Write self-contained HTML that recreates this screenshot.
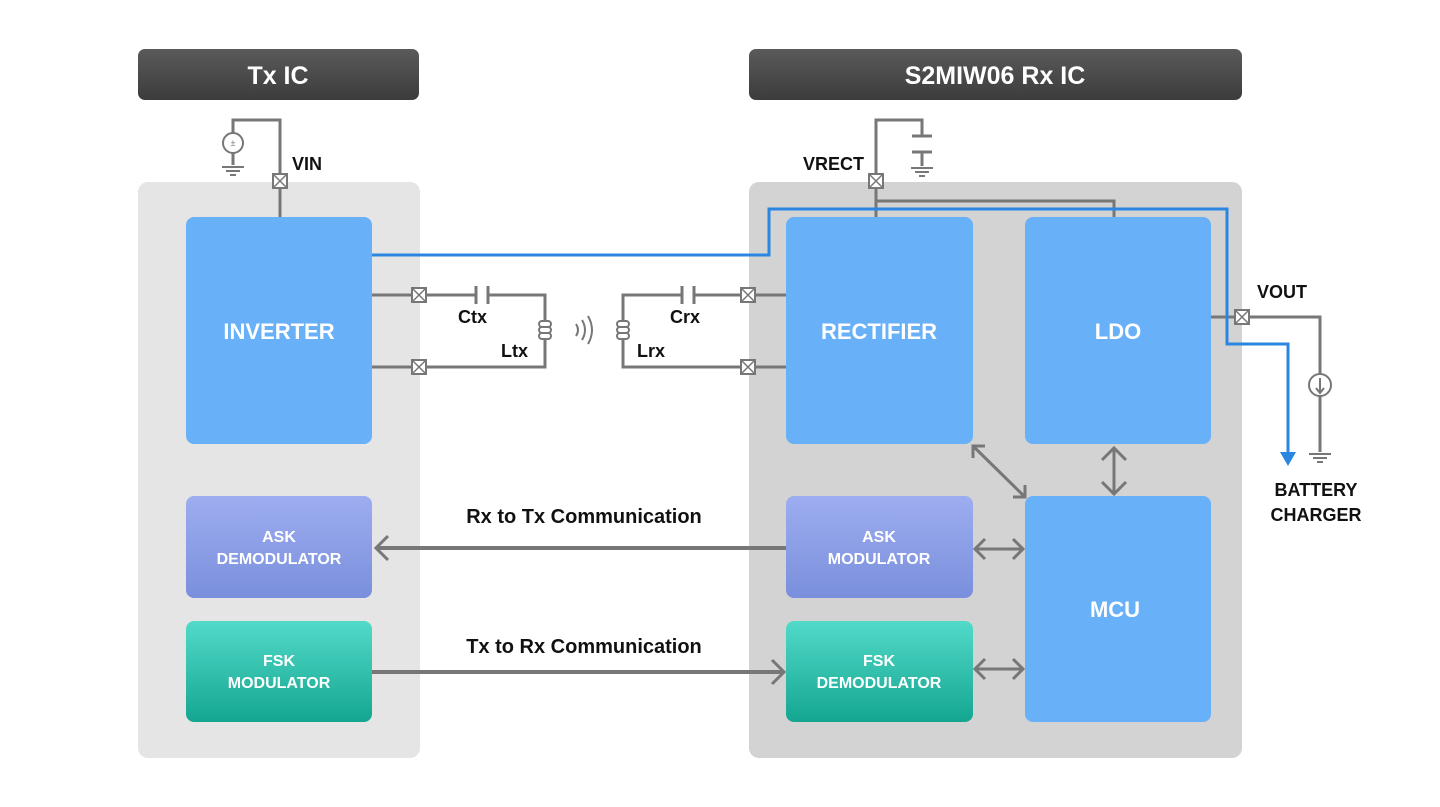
<!DOCTYPE html>
<html><head><meta charset="utf-8"><style>
html,body{margin:0;padding:0;background:#fff;}
svg{display:block;font-family:"Liberation Sans",sans-serif;}
</style></head><body>
<svg width="1440" height="807" viewBox="0 0 1440 807" xmlns="http://www.w3.org/2000/svg">
<defs>
<linearGradient id="hd" x1="0" y1="0" x2="0" y2="1"><stop offset="0" stop-color="#5a5a5a"/><stop offset="1" stop-color="#3c3c3c"/></linearGradient>
<linearGradient id="ask" x1="0" y1="0" x2="0" y2="1"><stop offset="0" stop-color="#9dadf0"/><stop offset="1" stop-color="#7a8fdc"/></linearGradient>
<linearGradient id="fsk" x1="0" y1="0" x2="0" y2="1"><stop offset="0" stop-color="#52dac9"/><stop offset="1" stop-color="#14a690"/></linearGradient>
<g id="xb"><rect x="-7" y="-7" width="14" height="14" fill="#fff" stroke="#777" stroke-width="2"/><path d="M-6 -6L6 6M6 -6L-6 6" stroke="#777" stroke-width="1.5"/></g>
<g id="gnd"><path d="M-11 0H11M-7 4H7M-3 8H3" stroke="#777" stroke-width="2"/></g>
</defs>
<!-- headers -->
<rect x="138" y="49" width="281" height="51" rx="7" fill="url(#hd)"/>
<text x="278" y="84" fill="#fff" font-size="25" font-weight="bold" text-anchor="middle">Tx IC</text>
<rect x="749" y="49" width="493" height="51" rx="7" fill="url(#hd)"/>
<text x="995" y="84" fill="#fff" font-size="25" font-weight="bold" text-anchor="middle">S2MIW06 Rx IC</text>
<!-- panels -->
<rect x="138" y="182" width="282" height="576" rx="10" fill="#e5e5e5"/>
<rect x="749" y="182" width="493" height="576" rx="10" fill="#d3d3d3"/>
<g stroke="#777" stroke-width="3" fill="none">
<!-- VIN -->
<path d="M233 133V120H280V217"/>
<path d="M233 153V165"/>
<!-- Tx tank -->
<path d="M372 295H476M488 295H545V367H372"/>
<path d="M476 286V304M488 286V304"/>
<!-- Rx tank -->
<path d="M787 295H694M682 295H623V367H787"/>
<path d="M682 286V304M694 286V304"/>
<!-- VRECT -->
<path d="M876 217V120H922V136M922 152V166"/>
<path d="M912 136H932M912 152H932"/>
<path d="M876 201H1114V217"/>
<!-- VOUT -->
<path d="M1211 317H1320V374M1320 396V452"/>
<!-- comm -->
<path d="M787 548H376" stroke-width="4"/>
<path d="M388 536L376 548L388 560"/>
<path d="M372 672H782" stroke-width="4"/>
<path d="M772 660L784 672L772 684"/>
<!-- mcu arrows -->
<path d="M973 446L1025 497"/>
<path d="M973 458V446H985M1025 485V497H1013"/>
<path d="M1114 448V494M1102 460L1114 448L1126 460M1102 482L1114 494L1126 482"/>
<path d="M975 549H1023M985 539L975 549L985 559M1013 539L1023 549L1013 559"/>
<path d="M975 669H1023M985 659L975 669L985 679M1013 659L1023 669L1013 679"/>
<!-- waves -->
<path d="M576 324Q580 330 576 336M582 320Q588 330 582 340M588 316Q596 330 588 344" stroke-width="2"/>
</g>
<!-- inductors -->
<g fill="#fff" stroke="#777" stroke-width="2">
<rect x="539" y="321" width="12" height="6" rx="3"/><rect x="539" y="327" width="12" height="6" rx="3"/><rect x="539" y="333" width="12" height="6" rx="3"/>
<rect x="617" y="321" width="12" height="6" rx="3"/><rect x="617" y="327" width="12" height="6" rx="3"/><rect x="617" y="333" width="12" height="6" rx="3"/>
<circle cx="233" cy="143" r="10"/>
<circle cx="1320" cy="385" r="11"/>
</g>
<text x="233" y="146" font-size="9" text-anchor="middle" fill="#777">±</text>
<path d="M1320 378V392M1316 388L1320 393L1324 388" stroke="#777" stroke-width="2" fill="none"/>
<use href="#gnd" x="233" y="167"/>
<use href="#gnd" x="922" y="168"/>
<use href="#gnd" x="1320" y="454"/>
<use href="#xb" x="280" y="181"/>
<use href="#xb" x="419" y="295"/><use href="#xb" x="419" y="367"/>
<use href="#xb" x="748" y="295"/><use href="#xb" x="748" y="367"/>
<use href="#xb" x="876" y="181"/>
<!-- blocks -->
<rect x="186" y="217" width="186" height="227" rx="8" fill="#68b1f8"/>
<rect x="786" y="217" width="187" height="227" rx="8" fill="#68b1f8"/>
<rect x="1025" y="217" width="186" height="227" rx="8" fill="#68b1f8"/>
<rect x="1025" y="496" width="186" height="226" rx="8" fill="#68b1f8"/>
<rect x="186" y="496" width="186" height="102" rx="8" fill="url(#ask)"/>
<rect x="786" y="496" width="187" height="102" rx="8" fill="url(#ask)"/>
<rect x="186" y="621" width="186" height="101" rx="8" fill="url(#fsk)"/>
<rect x="786" y="621" width="187" height="101" rx="8" fill="url(#fsk)"/>
<!-- blue path -->
<path d="M372 255H769V209H1227V344H1288V455" stroke="#2b86e0" stroke-width="3" fill="none"/>
<path d="M1280 452H1296L1288 466Z" fill="#2b86e0"/>
<use href="#xb" x="1242" y="317"/>
<!-- block labels -->
<g fill="#fff" font-weight="bold" text-anchor="middle">
<text x="279" y="339" font-size="22">INVERTER</text>
<text x="879" y="339" font-size="22">RECTIFIER</text>
<text x="1118" y="339" font-size="22">LDO</text>
<text x="1115" y="617" font-size="22">MCU</text>
<g font-size="16">
<text x="279" y="542">ASK</text><text x="279" y="564">DEMODULATOR</text>
<text x="879" y="542">ASK</text><text x="879" y="564">MODULATOR</text>
<text x="279" y="666">FSK</text><text x="279" y="688">MODULATOR</text>
<text x="879" y="666">FSK</text><text x="879" y="688">DEMODULATOR</text>
</g></g>
<!-- labels -->
<g fill="#111" font-weight="bold" font-size="18">
<text x="292" y="170">VIN</text>
<text x="864" y="170" text-anchor="end">VRECT</text>
<text x="1257" y="298">VOUT</text>
<text x="458" y="323">Ctx</text>
<text x="501" y="357">Ltx</text>
<text x="670" y="323">Crx</text>
<text x="637" y="357">Lrx</text>
<text x="1316" y="496" text-anchor="middle">BATTERY</text>
<text x="1316" y="521" text-anchor="middle">CHARGER</text>
<text x="584" y="523" text-anchor="middle" font-size="20">Rx to Tx Communication</text>
<text x="584" y="653" text-anchor="middle" font-size="20">Tx to Rx Communication</text>
</g>
</svg>
</body></html>
